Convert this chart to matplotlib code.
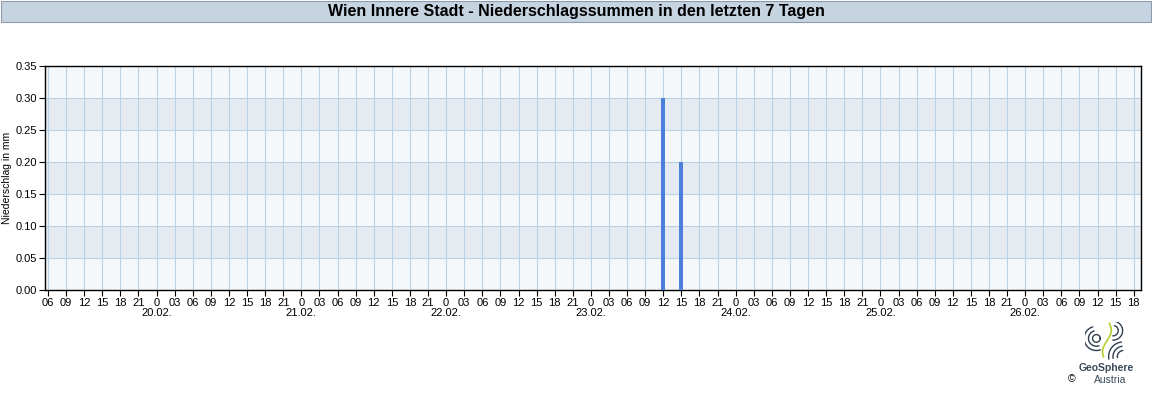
import numpy as np
import matplotlib
matplotlib.use("Agg")
import matplotlib.pyplot as plt
from matplotlib.patches import Rectangle
import matplotlib.transforms as mtransforms

plt.rcParams['font.family'] = ['Liberation Sans', 'DejaVu Sans']

# Stunden seit 19.02. 00:00
TITLE = "Wien Innere Stadt - Niederschlagssummen in den letzten 7 Tagen"
bar_hours = [108, 111]          # 23.02. 12 Uhr, 23.02. 15 Uhr
bar_values = [0.30, 0.20]
tick_hours = list(range(6, 187, 3))
day_labels = ["20.02.", "21.02.", "22.02.", "23.02.", "24.02.", "25.02.", "26.02."]
day_hours = [24, 48, 72, 96, 120, 144, 168]
y_ticks = [0.00, 0.05, 0.10, 0.15, 0.20, 0.25, 0.30, 0.35]

BAND_DARK = "#e6ebf2"
BAND_LIGHT = "#f5f8fb"
GRID = "#b9d3e6"
BAR = "#4f7fdc"

W, H = 1152, 400
fig = plt.figure(figsize=(W / 100, H / 100), dpi=100)
fig.patch.set_facecolor("white")

# Titelbalken
fig.patches.append(Rectangle((0.5 / W, 1 - 21.5 / H), (W - 1.5) / W, 21 / H,
                             transform=fig.transFigure, facecolor="#c6d4e1",
                             edgecolor="#8c9cae", lw=0.8))
fig.text(0.5, 1 - 11.5 / H, TITLE, ha="center", va="center",
         fontsize=11.5, fontweight="bold", color="black")

ax = fig.add_axes([45 / W, 1 - 290 / H, (1141 - 45) / W, (290 - 66) / H])
ax.set_xlim(5.5, 187.2)
ax.set_ylim(0, 0.35)

# abwechselnde Bänder
for i, y0 in enumerate(y_ticks[:-1]):
    ax.axhspan(y0, y0 + 0.05, color=BAND_DARK if i % 2 == 1 else BAND_LIGHT, lw=0, zorder=0)

for h in tick_hours:
    ax.axvline(h, color=GRID, lw=0.8, zorder=1)
for y in y_ticks[1:-1]:
    ax.axhline(y, color=GRID, lw=0.8, zorder=1)

ax.bar(bar_hours, bar_values, width=0.7, color=BAR, zorder=3)

ax.set_xticks(tick_hours)
ax.set_xticklabels(["0" if h % 24 == 0 else "%02d" % (h % 24) for h in tick_hours])
ax.set_yticks(y_ticks)
ax.set_yticklabels(["%.2f" % v for v in y_ticks])
ax.tick_params(axis="both", direction="out", length=4, width=0.8, labelsize=8,
               colors="black", pad=1.5)
for s in ax.spines.values():
    s.set_linewidth(1.0)
    s.set_color("black")
ax.set_ylabel("Niederschlag in mm", fontsize=7.5, labelpad=3)

trans = mtransforms.blended_transform_factory(ax.transData, fig.transFigure)
for h, lab in zip(day_hours, day_labels):
    ax.text(h, 1 - 313 / H, lab, transform=trans, ha="center", va="center", fontsize=8)

# GeoSphere Austria Logo
lax = fig.add_axes([1085 / W, 1 - 360 / H, 42 / W, 38 / H])
lax.set_xlim(-1.2, 1.2)
lax.set_ylim(-1.1, 1.1)
lax.axis("off")
t = np.linspace(0, 2 * np.pi, 60)
lax.plot(-0.55 + 0.22 * np.cos(t), 0.15 + 0.22 * np.sin(t), color="#2f3f4f", lw=1)
for r in [0.45, 0.7]:
    tt = np.linspace(0.6 * np.pi, 1.6 * np.pi, 40)
    lax.plot(-0.55 + r * np.cos(tt), 0.15 + r * np.sin(tt), color="#2f3f4f", lw=1)
yy = np.linspace(-0.9, 1.0, 40)
lax.plot(0.05 + 0.25 * np.sin(yy * 2.5), yy, color="#b9cf3a", lw=1.3)
for r in [0.35, 0.6, 0.85]:
    tt = np.linspace(0.55 * np.pi, 1.05 * np.pi, 30)
    lax.plot(1.0 + r * np.cos(tt), -0.9 + r * np.sin(tt), color="#2f3f4f", lw=1)
for r in [0.3, 0.55]:
    tt = np.linspace(-0.5 * np.pi, 0.4 * np.pi, 30)
    lax.plot(0.4 + r * np.cos(tt), 0.6 + r * np.sin(tt), color="#2f3f4f", lw=1)

fig.text(1106 / W, 1 - 368 / H, "GeoSphere", ha="center", va="center",
         fontsize=7.5, fontweight="bold", color="#3a4a5a")
fig.text(1110 / W, 1 - 380 / H, "Austria", ha="center", va="center",
         fontsize=7.5, color="#3a4a5a")
fig.text(1072 / W, 1 - 379 / H, "\u00a9", ha="center", va="center",
         fontsize=7.5, color="black")

fig.savefig("out.png", dpi=100)
